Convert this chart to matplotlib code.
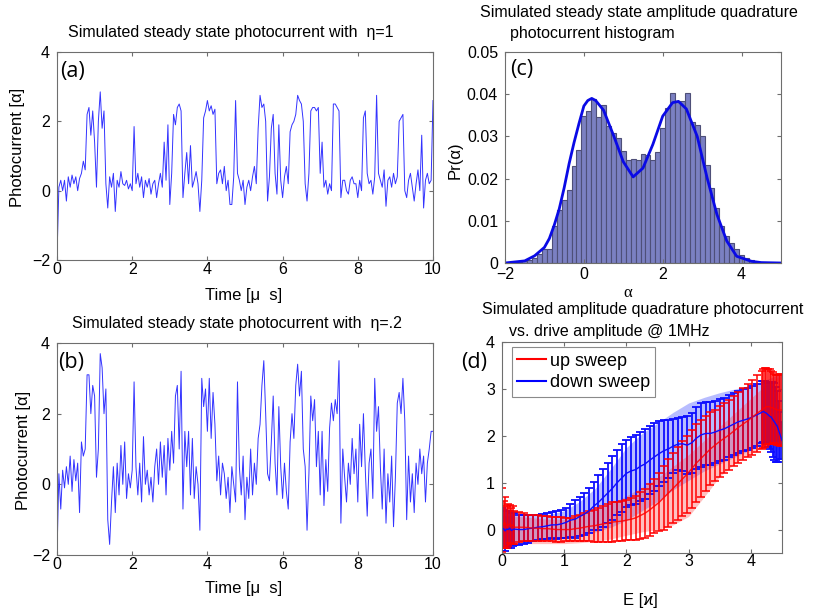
import numpy as np
import matplotlib
matplotlib.use('Agg')
import matplotlib.pyplot as plt
from matplotlib.lines import Line2D

plt.rcParams['font.family'] = ['Liberation Sans', 'DejaVu Sans']

# (a) photocurrent, eta = 1, sampled every 0.05 us
photo_a = [
    -1.9, 0.1, 0.3, 0.0, 0.3, -0.3, 0.4, 0.1, 0.45, 0.2, 0.4, 0.0, 0.35, 0.5, 0.85, 0.6, 2.2, 2.4, 1.6, 2.3,
    1.4, 0.1, 2.0, 2.85, 1.8, 2.3, 0.2, -0.5, 0.4, 0.1, 0.5, -0.6, 0.3, 0.1, 0.55, 0.2, 0.15, 0.3, 0.05, 0.2,
    0.0, 1.85, 0.2, 0.5, 0.1, 0.4, -0.2, 0.3, 0.1, 0.35, -0.1, 0.2, 0.3, -0.2, 0.2, 0.5, 0.1, 1.4, 0.3, 1.9,
    -0.4, 0.5, 2.2, 1.9, 2.4, 2.5, 2.3, -0.2, 0.5, 1.1, 0.2, 1.3, 0.1, 0.3, 0.55, 0.2, -0.6, 0.3, 2.1, 2.3,
    2.6, 2.3, 2.45, 2.2, 2.35, 0.2, 0.5, 0.6, 0.2, 0.7, 0.0, 0.3, -0.4, -0.4, 0.4, 2.6, 0.5, 0.3, 0.0, 0.3,
    -0.4, 0.1, 0.3, 0.0, 0.4, 0.7, 0.2, 1.8, 2.75, 2.4, 2.5, 2.0, -0.3, 0.4, 1.8, 2.2, 0.5, -0.1, 1.9, 0.3,
    -0.2, 0.4, 0.7, 0.2, 1.7, 1.9, 2.0, 2.2, 2.75, 2.6, 2.5, 2.0, 0.2, -0.3, 0.5, 2.3, 2.4, 2.4, 2.3, 2.4,
    0.5, 1.4, 0.1, 0.3, -0.1, 0.2, 0.0, 2.5, 2.5, 2.4, 2.3, -0.2, 0.3, 0.3, 0.0, -0.1, 0.3, 0.4, 0.2, 0.2,
    -0.2, 0.3, 0.0, 2.1, 2.3, 0.5, 0.2, 0.3, -0.1, 0.4, 2.75, 0.5, 0.3, 0.1, 0.6, -0.45, 0.3, 0.4, 0.1, 0.5,
    0.2, 0.4, 2.0, 2.1, 2.2, 0.0, -0.2, 0.3, 0.5, 0.1, -0.3, 0.2, 0.6, 0.0, 1.6, -0.5, 0.3, 0.5, 0.2, 0.3, 2.6]

# (b) photocurrent, eta = 0.2
photo_b = [
    -2.0, 0.3, -0.7, 0.4, -0.1, 0.5, 0.0, 0.8, -0.2, 0.7, 0.1, 0.6, -0.8, 1.2, 0.8, 1.0, 3.1, 3.1, 2.0, 2.8,
    2.5, 0.2, 1.0, 3.7, 3.3, 2.0, 2.7, -1.0, -1.7, -0.5, 0.5, -0.8, 0.6, -0.3, 1.1, 0.0, 1.2, -0.4, 0.3, -0.1,
    0.4, 2.9, 0.5, -0.3, 0.6, -0.5, 1.35, 0.0, 0.4, -0.3, 0.2, -0.5, 0.5, 1.0, 0.0, 1.2, 0.2, 1.1, -0.3, 1.3,
    0.4, 1.5, 0.6, 2.5, 2.8, 1.0, 3.2, -0.7, 1.5, 0.5, 1.5, -0.3, 1.3, -0.4, 0.5, 0.0, -1.3, 3.0, 2.2, 2.7,
    1.5, 3.0, 1.3, 2.6, 1.7, 0.1, 0.8, -0.3, 0.6, 0.3, -0.4, 0.2, -0.8, 0.5, 0.0, -0.5, 2.9, 0.5, -0.3, 0.8,
    -1.0, 0.2, -0.4, 1.0, -0.3, 0.6, 0.0, 1.3, 1.7, 2.8, 3.5, 2.0, 0.3, 0.1, 1.2, 2.5, 0.6, -0.3, 2.2, 0.5,
    -0.4, 0.6, -0.2, -0.7, 1.2, 2.0, 1.3, 2.8, 3.4, 2.5, 3.2, 1.0, 0.5, -1.3, 0.3, 2.5, 1.8, 2.4, 0.5, 1.5,
    -0.3, 1.5, -0.6, 0.7, -0.2, 1.6, 2.3, 1.8, 2.4, 2.0, 3.5, -1.1, 1.0, 0.2, -0.5, 0.6, 0.0, 1.3, 0.3, 1.0,
    -0.5, 1.7, 0.5, 2.0, 0.4, -0.9, 0.6, 1.0, -0.4, 3.0, 1.5, 2.2, 0.5, -0.7, 1.0, -1.1, 0.3, -0.5, 0.8, -1.2,
    0.2, 2.3, 2.6, 2.0, 3.0, 1.8, -1.0, 0.8, -0.5, 0.3, -0.8, 0.6, 0.0, 1.0, 0.3, 0.8, -0.5, 0.6, 1.0, 1.5, 1.5]

# (c) histogram
hist_alpha = [-1.625, -1.5, -1.375, -1.25, -1.125, -1.0, -0.875, -0.75, -0.625, -0.5, -0.375, -0.25, -0.125,
              0.0, 0.125, 0.25, 0.375, 0.5, 0.625, 0.75, 0.875, 1.0, 1.125, 1.25, 1.375, 1.5, 1.625, 1.75, 1.875,
              2.0, 2.125, 2.25, 2.375, 2.5, 2.625, 2.75, 2.875, 3.0, 3.125, 3.25, 3.375, 3.5, 3.625, 3.75, 3.875,
              4.0, 4.125, 4.25, 4.375]
hist_pr = [0.0003, 0.0005, 0.0008, 0.0012, 0.0021, 0.0034, 0.0033, 0.0087, 0.0126, 0.0150, 0.0174, 0.0229, 0.0268,
           0.0348, 0.0360, 0.0388, 0.0345, 0.0375, 0.0325, 0.0308, 0.0296, 0.0265, 0.0245, 0.0247, 0.0243, 0.0258,
           0.0255, 0.0245, 0.0262, 0.0320, 0.0367, 0.0402, 0.0385, 0.0385, 0.0402, 0.0333, 0.0328, 0.0300, 0.0232,
           0.0178, 0.0130, 0.0087, 0.0063, 0.0047, 0.0032, 0.0020, 0.0012, 0.0006, 0.0003]
fit_alpha = [-2.0, -1.5, -1.25, -1.0, -0.875, -0.75, -0.625, -0.5, -0.375, -0.25, -0.125, 0.0, 0.1, 0.2, 0.3,
             0.5, 0.75, 1.0, 1.25, 1.5, 1.75, 2.0, 2.25, 2.4, 2.6, 2.875, 3.125, 3.375, 3.625, 3.875, 4.25, 4.5, 5.0]
fit_pr = [0.0, 0.0005, 0.0017, 0.0037, 0.0058, 0.0090, 0.0128, 0.0178, 0.0235, 0.0285, 0.0330, 0.0372, 0.0385,
          0.0390, 0.0385, 0.0362, 0.0303, 0.0240, 0.0204, 0.0225, 0.0281, 0.0348, 0.0380, 0.0383, 0.0365, 0.0300,
          0.0202, 0.0115, 0.0052, 0.0016, 0.0004, 0.0001, 0.0]

# (d) sweeps vs drive amplitude
E_drive = [0, 0.025, 0.05, 0.075, 0.1, 0.125, 0.15, 0.175, 0.2,
           0.275, 0.35, 0.425, 0.5, 0.575, 0.65, 0.725, 0.8, 0.875, 0.95,
           1.025, 1.1, 1.175, 1.25, 1.325, 1.4, 1.475, 1.55, 1.625, 1.7, 1.775, 1.85, 1.925,
           2.0, 2.075, 2.15, 2.225, 2.3, 2.375, 2.45, 2.525, 2.6, 2.675, 2.75, 2.825, 2.9, 2.975,
           3.05, 3.125, 3.2, 3.275, 3.35, 3.425, 3.5, 3.575, 3.65, 3.725, 3.8, 3.875, 3.95,
           4.025, 4.1, 4.175, 4.2, 4.225, 4.25, 4.275, 4.3, 4.325, 4.35, 4.375, 4.4, 4.425, 4.45, 4.475, 4.5]
down_mean = [0.0, 0.02, -0.03, 0.01, 0.0, 0.03, -0.02, 0.0, 0.01,
             0.0, 0.0, 0.02, 0.03, 0.05, 0.06, 0.08, 0.1, 0.1, 0.12,
             0.15, 0.2, 0.22, 0.28, 0.33, 0.4, 0.5, 0.58, 0.68, 0.78, 0.88, 1.0, 1.1,
             1.2, 1.25, 1.28, 1.35, 1.4, 1.48, 1.55, 1.62, 1.68, 1.72, 1.78, 1.82, 1.83, 1.8,
             1.85, 1.95, 2.02, 2.05, 2.05, 2.08, 2.12, 2.15, 2.2, 2.25, 2.3, 2.33, 2.36,
             2.4, 2.45, 2.5, 2.52, 2.5, 2.48, 2.45, 2.42, 2.4, 2.35, 2.3, 2.25, 2.2, 2.1, 2.0, 1.9]
down_err = [0.45, 0.4, 0.42, 0.38, 0.4, 0.36, 0.38, 0.35, 0.35,
            0.32, 0.3, 0.3, 0.28, 0.27, 0.27, 0.28, 0.28, 0.3, 0.3,
            0.32, 0.35, 0.4, 0.42, 0.45, 0.48, 0.52, 0.58, 0.62, 0.65, 0.68, 0.7, 0.72,
            0.72, 0.73, 0.74, 0.74, 0.74, 0.72, 0.72, 0.7, 0.66, 0.62, 0.58, 0.56, 0.58, 0.62,
            0.64, 0.66, 0.68, 0.68, 0.68, 0.67, 0.66, 0.66, 0.66, 0.66, 0.66, 0.66, 0.66,
            0.66, 0.66, 0.66, 0.65, 0.66, 0.66, 0.68, 0.7, 0.75, 0.8, 0.82, 0.8, 0.75, 0.65, 0.5, 0.4]
up_mean = [0.2, 0.1, 0.15, 0.05, 0.1, 0.12, 0.08, 0.1, 0.05,
           0.05, 0.05, 0.04, 0.03, 0.03, 0.02, 0.02, 0.01, 0.0, 0.0,
           0.0, 0.0, 0.02, 0.03, 0.05, 0.07, 0.08, 0.1, 0.12, 0.14, 0.16, 0.17, 0.18,
           0.2, 0.22, 0.25, 0.3, 0.35, 0.42, 0.5, 0.58, 0.68, 0.78, 0.88, 0.98, 1.08, 1.18,
           1.3, 1.42, 1.52, 1.62, 1.72, 1.8, 1.88, 1.95, 2.02, 2.1, 2.18, 2.25, 2.32,
           2.4, 2.48, 2.55, 2.58, 2.6, 2.62, 2.62, 2.62, 2.6, 2.6, 2.58, 2.56, 2.55, 2.55, 2.55, 2.55]
up_err = [0.68, 0.5, 0.55, 0.45, 0.45, 0.4, 0.38, 0.4, 0.35,
          0.32, 0.3, 0.28, 0.27, 0.27, 0.27, 0.27, 0.26, 0.26, 0.26,
          0.25, 0.25, 0.27, 0.28, 0.3, 0.32, 0.34, 0.36, 0.38, 0.4, 0.42, 0.42, 0.42,
          0.43, 0.45, 0.47, 0.5, 0.52, 0.55, 0.58, 0.62, 0.68, 0.72, 0.75, 0.78, 0.8, 0.82,
          0.83, 0.84, 0.82, 0.8, 0.78, 0.76, 0.75, 0.74, 0.74, 0.74, 0.75, 0.76, 0.78,
          0.8, 0.82, 0.84, 0.84, 0.84, 0.82, 0.8, 0.8, 0.78, 0.75, 0.74, 0.74, 0.74, 0.75, 0.76, 0.76]

# shaded envelopes
E_band = [0, 0.25, 0.5, 0.75, 1.0, 1.25, 1.5, 1.75, 2.0, 2.25, 2.5, 2.75, 3.0, 3.25, 3.5, 3.75, 4.0, 4.25, 4.5]
down_hi = [0.3, 0.3, 0.3, 0.32, 0.4, 0.6, 0.88, 1.3, 1.75, 2.05, 2.27, 2.5, 2.7, 2.82, 2.92, 3.0, 3.08, 3.2, 3.33]
down_lo = [-0.3, -0.28, -0.25, -0.22, -0.18, -0.12, -0.05, 0.05, 0.2, 0.4, 0.6, 0.85, 1.05, 1.25, 1.4, 1.55, 1.7, 1.85, 1.9]
up_hi = [0.3, 0.28, 0.25, 0.22, 0.22, 0.3, 0.42, 0.55, 0.72, 0.9, 1.1, 1.35, 1.6, 1.9, 2.2, 2.5, 2.8, 3.1, 3.3]
up_lo = [-0.3, -0.3, -0.3, -0.3, -0.3, -0.28, -0.25, -0.2, -0.12, -0.05, 0.0, 0.1, 0.28, 0.7, 1.13, 1.42, 1.63, 1.8, 1.9]

AX_COL = '#6e6e6e'
LAB = ['Open Sans', 'DejaVu Sans']


def matlab_style(ax, xpad=2, ypad=5):
    for s in ax.spines.values():
        s.set_color(AX_COL)
        s.set_linewidth(0.8)
    ax.tick_params(direction='in', length=3, width=0.8, color=AX_COL,
                   top=True, right=True, labelsize=11.5)
    ax.tick_params(axis='x', pad=xpad)
    ax.tick_params(axis='y', pad=ypad)


fig = plt.figure(figsize=(8.17, 6.13), dpi=100)
W, H = 817.0, 613.0
ax_a = fig.add_axes([57 / W, 1 - 260 / H, 376 / W, 208 / H])
ax_b = fig.add_axes([57 / W, 1 - 555 / H, 376 / W, 212 / H])
ax_c = fig.add_axes([505 / W, 1 - 263 / H, 276 / W, 211 / H])
ax_d = fig.add_axes([502 / W, 1 - 553 / H, 280 / W, 211 / H])

trace_col = (0.2, 0.2, 1.0)

# ---- (a) ----
t_a = np.linspace(0, 10, len(photo_a))
ax_a.plot(t_a, photo_a, color=trace_col, lw=0.7)
ax_a.set_xlim(0, 10)
ax_a.set_ylim(-2, 4)
ax_a.set_xticks([0, 2, 4, 6, 8, 10])
ax_a.set_yticks([-2, 0, 2, 4])
matlab_style(ax_a, xpad=1.5)
ax_a.text(0.463, 1.096, 'Simulated steady state photocurrent with  \u03b7=1', transform=ax_a.transAxes,
          ha='center', va='center', fontsize=11.5)
ax_a.text(0.495, -0.173, 'Time [\u03bc  s]', transform=ax_a.transAxes, ha='center', va='center', fontsize=12)
ax_a.text(-0.104, 0.54, 'Photocurrent [\u03b1]', transform=ax_a.transAxes, ha='center', va='center',
          rotation=90, fontsize=12)
ax_a.text(0.008, 0.905, '(a)', transform=ax_a.transAxes, ha='left', va='center', fontsize=15.5, family=LAB)

# ---- (b) ----
t_b = np.linspace(0, 10, len(photo_b))
ax_b.plot(t_b, photo_b, color=trace_col, lw=0.7)
ax_b.set_xlim(0, 10)
ax_b.set_ylim(-2, 4)
ax_b.set_xticks([0, 2, 4, 6, 8, 10])
ax_b.set_yticks([-2, 0, 2, 4])
matlab_style(ax_b, xpad=1.5)
ax_b.text(0.479, 1.094, 'Simulated steady state photocurrent with  \u03b7=.2', transform=ax_b.transAxes,
          ha='center', va='center', fontsize=11.5)
ax_b.text(0.495, -0.156, 'Time [\u03bc  s]', transform=ax_b.transAxes, ha='center', va='center', fontsize=12)
ax_b.text(-0.09, 0.495, 'Photocurrent [\u03b1]', transform=ax_b.transAxes, ha='center', va='center',
          rotation=90, fontsize=12)
ax_b.text(0.003, 0.91, '(b)', transform=ax_b.transAxes, ha='left', va='center', fontsize=15.5, family=LAB)

# ---- (c) ----
ax_c.bar(hist_alpha, hist_pr, width=0.125, color='#7b80c2', edgecolor='#4e4f78', linewidth=0.8)
ax_c.plot(fit_alpha, fit_pr, color='#0a0ae6', lw=2)
ax_c.set_xlim(-2, 5)
ax_c.set_ylim(0, 0.05)
ax_c.set_xticks([-2, 0, 2, 4])
ax_c.set_yticks([0, 0.01, 0.02, 0.03, 0.04, 0.05])
ax_c.set_yticklabels(['0', '0.01', '0.02', '0.03', '0.04', '0.05'])
matlab_style(ax_c, xpad=3)
ax_c.text(0.486, 1.185, 'Simulated steady state amplitude quadrature', transform=ax_c.transAxes,
          ha='center', va='center', fontsize=11.5)
ax_c.text(0.315, 1.09, 'photocurrent histogram', transform=ax_c.transAxes,
          ha='center', va='center', fontsize=11.5)
ax_c.text(0.446, -0.142, '\u03b1', transform=ax_c.transAxes, ha='center', va='center', fontsize=12,
          family=['Liberation Serif', 'DejaVu Serif'])
ax_c.text(-0.18, 0.488, 'Pr(\u03b1)', transform=ax_c.transAxes, ha='center', va='center',
          rotation=90, fontsize=12)
ax_c.text(0.018, 0.915, '(c)', transform=ax_c.transAxes, ha='left', va='center', fontsize=15.5, family=LAB)

# ---- (d) ----
ax_d.fill_between(E_band, down_lo, down_hi, color=(0.3, 0.35, 1.0), alpha=0.4, lw=0)
ax_d.fill_between(E_band, up_lo, up_hi, color=(1.0, 0.3, 0.3), alpha=0.35, lw=0)
ax_d.errorbar(E_drive, down_mean, yerr=down_err, color=(0.05, 0.05, 1.0), lw=1.0,
              elinewidth=1.3, capsize=3, capthick=1.3)
ax_d.errorbar(E_drive, up_mean, yerr=up_err, color=(1.0, 0.0, 0.0), lw=1.0, alpha=0.85,
              elinewidth=1.3, capsize=3, capthick=1.3)
ax_d.set_xlim(0, 4.5)
ax_d.set_ylim(-0.5, 4)
ax_d.set_xticks([0, 1, 2, 3, 4])
ax_d.set_yticks([0, 1, 2, 3, 4])
matlab_style(ax_d, xpad=1)
handles = [Line2D([], [], color='red', lw=1.5), Line2D([], [], color='blue', lw=1.5)]
leg = ax_d.legend(handles, ['up sweep', 'down sweep'], loc='upper left', bbox_to_anchor=(0.035, 0.975),
                  borderaxespad=0, fancybox=False, fontsize=13, handlelength=1.6, handletextpad=0.2,
                  borderpad=0.3, labelspacing=0.25, framealpha=1)
leg.get_frame().set_edgecolor('#8a8a8a')
leg.get_frame().set_linewidth(0.8)
ax_d.text(0.504, 1.152, 'Simulated amplitude quadrature photocurrent', transform=ax_d.transAxes,
          ha='center', va='center', fontsize=11.5)
ax_d.text(0.382, 1.052, 'vs. drive amplitude @ 1MHz', transform=ax_d.transAxes,
          ha='center', va='center', fontsize=11.5)
ax_d.text(0.493, -0.223, 'E [\u03f0]', transform=ax_d.transAxes, ha='center', va='center', fontsize=12)
ax_d.text(-0.145, 0.905, '(d)', transform=ax_d.transAxes, ha='left', va='center', fontsize=15.5, family=LAB)

fig.savefig('out.png', dpi=100)
